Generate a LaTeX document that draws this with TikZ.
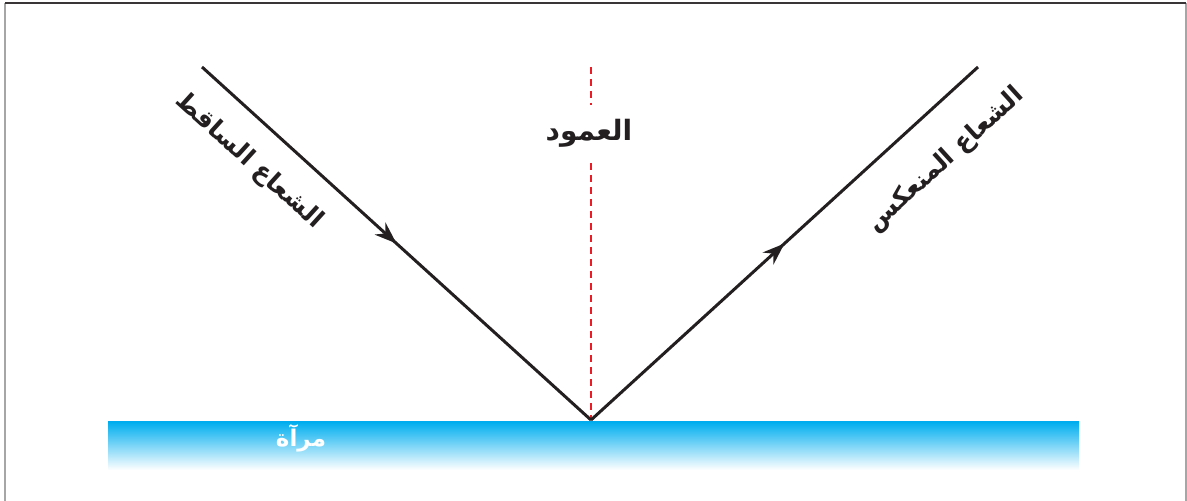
\documentclass[tikz,border=0pt]{standalone}
\usepackage{fontspec}
\usepackage{xcolor}
\usepackage{tikz}
\usetikzlibrary{arrows.meta,decorations.markings}
\newfontfamily\arabicfont[Script=Arabic]{DejaVu Sans}
\TeXXeTstate=1
\definecolor{raycol}{RGB}{35,31,32}
\definecolor{mirrorblue}{RGB}{0,174,239}
\definecolor{normalred}{RGB}{237,28,36}
\tikzset{
  ray/.style={line width=3pt, raycol, postaction={decorate},
    decoration={markings, mark=at position 0.5 with {\arrow{Stealth[length=22pt,width=16pt,inset=7pt]}}}},
  raylabel/.style={font=\arabicfont\bfseries\fontsize{25}{30}\selectfont, text=raycol, inner sep=0pt}
}
\begin{document}
\begin{tikzpicture}[x=1pt,y=1pt]
        \useasboundingbox (0,0) rectangle (1187,501);
        % Frame
        \draw[gray!70, line width=1.2pt] (5,0) -- (5,498);
        \draw[gray!70, line width=1.2pt] (1186,0) -- (1186,498);
        \draw[raycol!90, line width=1.2pt] (5,498) -- (1186,498);
        
        % Mirror
        \shade[top color=mirrorblue, bottom color=white] (108,31) rectangle (1079,79);
        \node[font=\arabicfont\bfseries\fontsize{23}{27}\selectfont, text=white] (mirror) at (301,63) {\beginR مرآة\endR};
        
        % Points
        \coordinate (hit) at (591,81);
        \coordinate (src) at (202,434);
        \coordinate (dst) at (978,434);
        \coordinate (top) at (591,434);
        
        % Normal
        \draw[normalred, line width=1.6pt, dash pattern=on 7pt off 5pt] (top) -- (hit);
        \node[raylabel, fill=white, inner ysep=14pt, inner xsep=4pt,
              font=\arabicfont\bfseries\fontsize{28}{32}\selectfont] (normal) at (589,368) {\beginR العمود\endR};
        
        % Rays
        \draw[ray] (src) -- (hit);
        \draw[ray] (hit) -- (dst);
        
        % Labels
        \node[raylabel, rotate=-42.2] (inc) at (249,340) {\beginR الشعاع الساقط\endR};
        \node[raylabel, rotate=42.2] (refl) at (946,341) {\beginR الشعاع المنعكس\endR};
    \end{tikzpicture}
\end{document}
